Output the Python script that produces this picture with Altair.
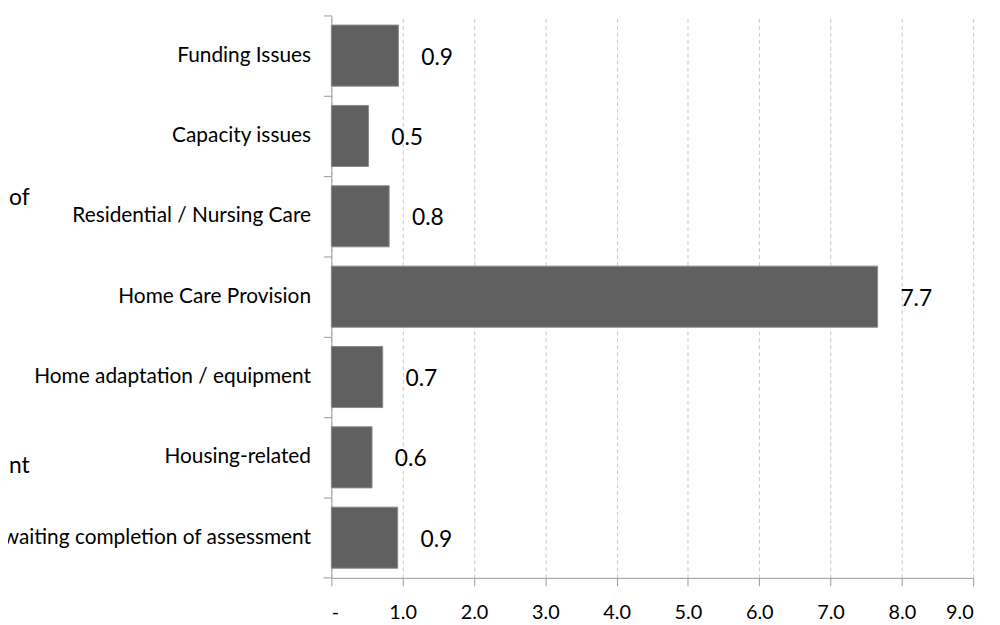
import altair as alt
import pandas as pd

categories = [
    "Funding Issues",
    "Capacity issues",
    "Residential / Nursing Care",
    "Home Care Provision",
    "Home adaptation / equipment",
    "Housing-related",
    "Awaiting completion of assessment",
]
values = [0.94, 0.52, 0.81, 7.66, 0.72, 0.57, 0.93]
x_ticks = [0, 1, 2, 3, 4, 5, 6, 7, 8, 9]
fragments = ["of", "nt"]

df = pd.DataFrame({"reason": categories, "days": values})

FONT = "Lato"
AXIS_GRAY = "#9a9a9a"

y_enc = alt.Y(
    "reason:N",
    sort=categories,
    title=None,
    scale=alt.Scale(paddingInner=0, paddingOuter=0),
    axis=alt.Axis(
        bandPosition=0,
        ticks=True,
        tickSize=8,
        tickColor=AXIS_GRAY,
        domainColor=AXIS_GRAY,
        labelFont=FONT,
        labelFontSize=21,
        labelColor="#000000",
        labelPadding=13,
        labelLimit=500,
        grid=False,
    ),
)

x_enc = alt.X(
    "days:Q",
    title=None,
    scale=alt.Scale(domain=[0, 9], nice=False),
    axis=alt.Axis(
        values=x_ticks,
        labelExpr="datum.value == 0 ? '-' : format(datum.value, '.1f')",
        grid=True,
        gridDash=[4, 3],
        gridColor="#c8c8c8",
        domainColor=AXIS_GRAY,
        tickColor=AXIS_GRAY,
        tickSize=8,
        labelFont=FONT,
        labelFontSize=20,
        labelColor="#000000",
        labelPadding=17,
    ),
)

bars = alt.Chart(df).mark_bar(
    height={"band": 0.76}, color="#606060", stroke="#8a8a8a", strokeWidth=1
).encode(x=x_enc, y=y_enc)

labels = alt.Chart(df).mark_text(
    align="center", baseline="middle", dx=39, dy=2, font=FONT, fontSize=23, color="#000000"
).encode(
    x=alt.X("days:Q"),
    y=alt.Y("reason:N", sort=categories),
    text=alt.Text("days:Q", format=".1f"),
)

bottom_tick = alt.Chart(pd.DataFrame({"a": [0]})).mark_rule(color=AXIS_GRAY).encode(
    x=alt.value(-8), x2=alt.value(0), y=alt.value(567)
)

frag1 = alt.Chart(pd.DataFrame({"t": [fragments[0]]})).mark_text(
    align="left", baseline="middle", font=FONT, fontSize=23, color="#000000"
).encode(x=alt.value(-325), y=alt.value(184), text="t:N")

frag2 = alt.Chart(pd.DataFrame({"t": [fragments[1]]})).mark_text(
    align="left", baseline="middle", font=FONT, fontSize=23, color="#000000"
).encode(x=alt.value(-325), y=alt.value(454), text="t:N")

chart = (
    alt.layer(bars, labels, bottom_tick, frag1, frag2)
    .properties(
        width=647,
        height=567,
        autosize=alt.AutoSizeParams(type="none"),
        padding={"left": 326, "top": 5, "right": 19, "bottom": 45},
        background="#ffffff",
    )
    .configure_view(stroke=None)
)

chart.save("out.html", embed_options={"renderer": "svg", "actions": False})
